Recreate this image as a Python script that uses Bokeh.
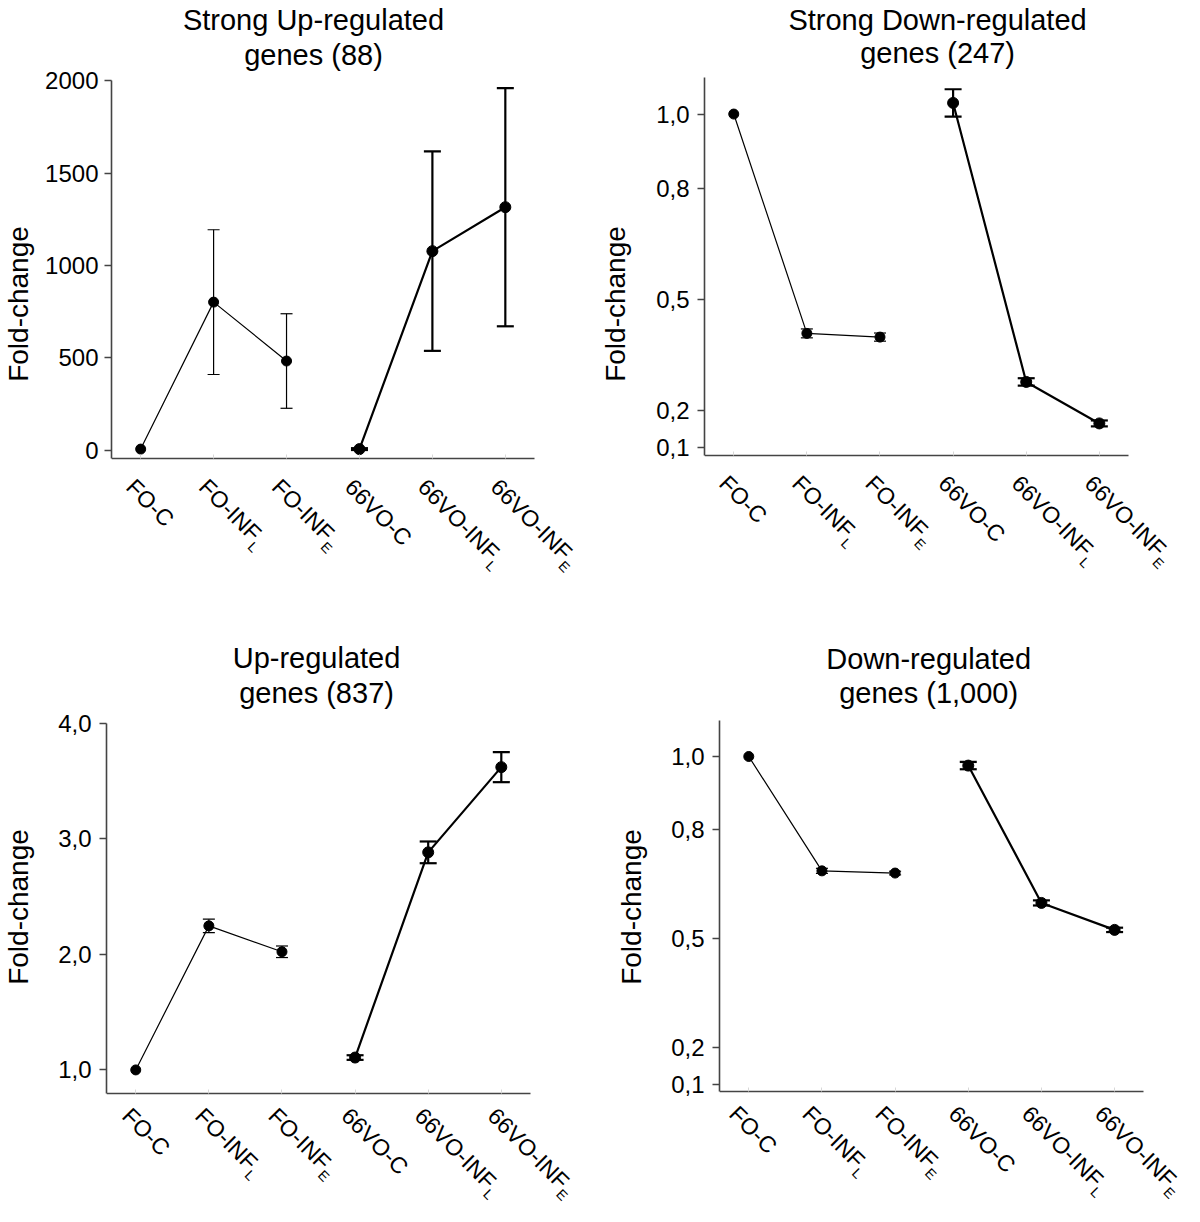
import math
from bokeh.plotting import figure
from bokeh.models import (ColumnDataSource, Range1d, FixedTicker, Whisker, TeeHead,
                          Label, LabelSet, CustomJSTickFormatter)
from bokeh.core.properties import value
from bokeh.layouts import column, row
from bokeh.embed import file_html
from bokeh.resources import INLINE

# ---------------- data ----------------
categories = ["FO-C", "FO-INF", "FO-INF", "66VO-C", "66VO-INF", "66VO-INF"]
subscripts = ["", "L", "E", "", "L", "E"]

strong_up_title = ["Strong Up-regulated", "genes (88)"]
strong_up_mean = [6, 802, 483, 6, 1078, 1316]
strong_up_err = [0, 392, 256, 5, 540, 645]
strong_up_ticks = [0, 500, 1000, 1500, 2000]

strong_down_title = ["Strong Down-regulated", "genes (247)"]
strong_down_mean = [1.0, 0.408, 0.398, 1.030, 0.277, 0.165]
strong_down_err = [0, 0.012, 0.011, 0.037, 0.010, 0.008]
strong_down_ticks = [0.1, 0.2, 0.5, 0.8, 1.0]

up_title = ["Up-regulated", "genes (837)"]
up_mean = [1.0, 2.246, 2.022, 1.107, 2.882, 3.619]
up_err = [0, 0.058, 0.050, 0.020, 0.094, 0.130]
up_ticks = [1.0, 2.0, 3.0, 4.0]

down_title = ["Down-regulated", "genes (1,000)"]
down_mean = [1.0, 0.686, 0.680, 0.975, 0.598, 0.524]
down_err = [0, 0.007, 0.005, 0.010, 0.007, 0.006]
down_ticks = [0.1, 0.2, 0.5, 0.8, 1.0]

FONT = "Liberation Sans"
AW = {'F': 0.611, 'O': 0.778, '-': 0.333, 'C': 0.722, 'I': 0.278, 'N': 0.722,
      '6': 0.556, 'V': 0.667, 'L': 0.556, 'E': 0.667}
LAB_SIZE = 23
SUB_SIZE = 14
X0, X1 = -0.4, 5.4   # extent of the x axis line (category units)


def text_w(s, size):
    return sum(AW.get(c, 0.556) for c in s) * size


def make_panel(title, means, errs, y0, y1, ticks, fmt_code, fig_box, axis_box,
               t_dx, t_top1, t_top2, std, als, lab_dx, lab_dy, low):
    fl, ft, fr, fb = fig_box          # figure edges (px)
    al, ar, at, ab = axis_box         # axis extents (px)
    xpp = (X1 - X0) / (ar - al)
    ypp = (y1 - y0) / (ab - at)
    x_hi = X1 + (fr - ar) * xpp
    y_hi = y1 + (at - ft) * ypp
    y_lo = y0 - (fb - ab) * ypp

    p = figure(width=int(round(fr - fl)), height=int(round(fb - ft)),
               x_range=Range1d(X0, x_hi), y_range=Range1d(y_lo, y_hi),
               output_backend="svg", toolbar_location=None,
               min_border_left=int(round(al - fl)), min_border_right=0,
               min_border_top=0, min_border_bottom=0)
    p.outline_line_color = None
    p.grid.visible = False
    p.background_fill_color = "white"
    p.border_fill_color = "white"

    xs = list(range(len(categories)))

    # y axis
    p.yaxis.bounds = (y0, y1)
    p.yaxis.ticker = FixedTicker(ticks=ticks)
    p.yaxis.formatter = CustomJSTickFormatter(code=fmt_code)
    p.yaxis.axis_label = "Fold-change"
    p.yaxis.axis_label_text_font = FONT
    p.yaxis.axis_label_text_font_size = "28px"
    p.yaxis.axis_label_text_font_style = "normal"
    p.yaxis.axis_label_text_color = "black"
    p.yaxis.axis_label_standoff = als
    p.yaxis.major_label_text_font = FONT
    p.yaxis.major_label_text_font_size = "24px"
    p.yaxis.major_label_text_color = "black"
    p.yaxis.major_label_standoff = std
    p.yaxis.major_tick_in = 0
    p.yaxis.major_tick_out = 7
    p.yaxis.minor_tick_line_color = None
    p.yaxis.axis_line_color = "#444444"
    p.yaxis.axis_line_width = 1.6
    p.yaxis.major_tick_line_color = "#444444"
    p.yaxis.major_tick_line_width = 1.6

    # x axis, drawn at the bottom of the value range
    p.xaxis.fixed_location = y0
    p.xaxis.bounds = (X0, X1)
    p.xaxis.ticker = FixedTicker(ticks=xs)
    p.xaxis.major_label_text_color = None
    p.xaxis.major_label_text_font_size = "1px"
    p.xaxis.major_tick_in = 4
    p.xaxis.major_tick_out = 0
    p.xaxis.major_tick_line_color = "#d8d8d8"
    p.xaxis.minor_tick_line_color = None
    p.xaxis.axis_line_color = "#444444"
    p.xaxis.axis_line_width = 1.6

    # two groups (FO thin, 66VO thick)
    groups = [(slice(0, 3), 1.2, 10, 12), (slice(3, 6), 2.2, 11, 17)]
    for sl, lw, ms, cap in groups:
        gx = xs[sl]
        gm = means[sl]
        ge = errs[sl]
        p.line(gx, gm, line_color="black", line_width=lw)
        wx = [x for x, e in zip(gx, ge) if e > 0]
        wu = [m + e for m, e in zip(gm, ge) if e > 0]
        wl = [m - e for m, e in zip(gm, ge) if e > 0]
        wsrc = ColumnDataSource(dict(x=wx, upper=wu, lower=wl))
        wh = Whisker(base="x", upper="upper", lower="lower", source=wsrc,
                     line_color="black", line_width=lw, level="glyph",
                     upper_head=TeeHead(size=cap, line_color="black", line_width=lw),
                     lower_head=TeeHead(size=cap, line_color="black", line_width=lw))
        p.add_layout(wh)
        p.scatter(gx, gm, size=ms, marker="circle", fill_color="black", line_color="black")

    # rotated category labels with subscripts
    c = math.cos(math.pi / 4)
    main_src = ColumnDataSource(dict(x=xs, y=[y0] * len(xs), text=categories,
                                     dx=[lab_dx] * len(xs), dy=[lab_dy] * len(xs)))
    p.add_layout(LabelSet(x="x", y="y", text="text", source=main_src, x_offset="dx", y_offset="dy",
                          angle=-math.pi / 4, text_font=value(FONT),
                          text_font_size=value(f"{LAB_SIZE}px"),
                          text_align="left", text_baseline="alphabetic", text_color="black"))
    sdx, sdy = [], []
    for t in categories:
        wmain = text_w(t, LAB_SIZE)
        sdx.append(lab_dx + c * (wmain - low))
        sdy.append(lab_dy - c * (wmain + low))
    sub_src = ColumnDataSource(dict(x=xs, y=[y0] * len(xs), text=subscripts, dx=sdx, dy=sdy))
    p.add_layout(LabelSet(x="x", y="y", text="text", source=sub_src, x_offset="dx", y_offset="dy",
                          angle=-math.pi / 4, text_font=value(FONT),
                          text_font_size=value(f"{SUB_SIZE}px"),
                          text_align="left", text_baseline="alphabetic", text_color="black"))

    # title (two lines), centres given in px from the top of the figure
    xc = (X0 + X1) / 2
    for txt, ty in zip(title, [t_top1, t_top2]):
        p.add_layout(Label(x=xc, y=y1, x_offset=t_dx, y_offset=(at - ft) - ty, text=txt,
                           text_align="center", text_baseline="middle", text_font=FONT,
                           text_font_size="29px", text_color="black"))
    return p


int_fmt = "return tick.toFixed(0);"
dec_fmt = "return tick.toFixed(1).replace('.', ',');"

# figure boxes (left, top, right, bottom) and axis boxes (left, right, top, bottom), px
p1 = make_panel(strong_up_title, strong_up_mean, strong_up_err, -45.5, 2000, strong_up_ticks, int_fmt,
                (0, 0, 592, 607), (110.2, 533.9, 80.4, 458.1), -9.5, 19, 54, 6, 8, -16, -30, 7)
p2 = make_panel(strong_down_title, strong_down_mean, strong_down_err, 0.0795, 1.1, strong_down_ticks, dec_fmt,
                (592, 0, 1184, 607), (704.1, 1128.1, 76.5, 454.6), 21, 19, 52.5, 8, 22, -16, -30, 7)
p3 = make_panel(up_title, up_mean, up_err, 0.796, 4.0, up_ticks, dec_fmt,
                (0, 607, 592, 1206), (105.6, 530, 722.6, 1093), -2, 50.5, 85.7, 8, 21, -15, -24, 6)
p4 = make_panel(down_title, down_mean, down_err, 0.0803, 1.098, down_ticks, dec_fmt,
                (592, 607, 1184, 1206), (719.4, 1143.4, 720.3, 1091), -3, 51.3, 85.7, 8, 21, -21, -24, 6)

layout = column(row(p1, p2), row(p3, p4))
open("out.html", "w").write(file_html(layout, INLINE))
